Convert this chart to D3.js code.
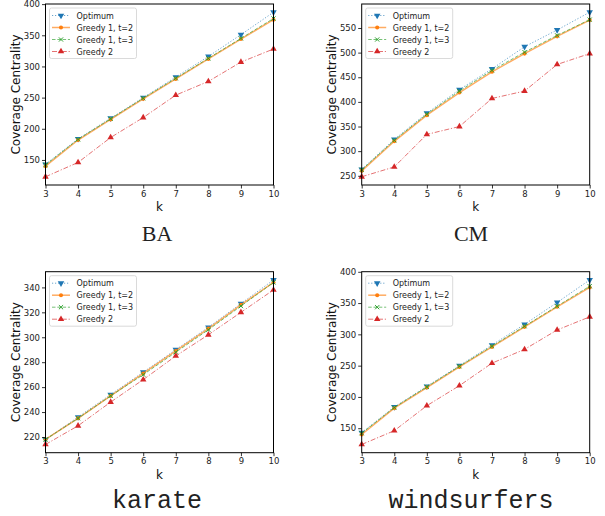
<!DOCTYPE html>
<html><head><meta charset="utf-8">
<script src="https://cdn.jsdelivr.net/npm/d3@7"></script>
<style>
body{margin:0;background:#fff;}
svg{display:block;}
.tick text{font-family:"DejaVu Sans",sans-serif;font-size:8.5px;fill:#222;}
</style></head><body>
<svg id="chart" width="605" height="516"></svg>
<script>
const kValues = [3,4,5,6,7,8,9,10];
const seriesNames = ["Optimum","Greedy 1, t=2","Greedy 1, t=3","Greedy 2"];

const baOptimum = [143,184,217,250,283,316,351,387];
const baGreedy1t2 = [140,182,215,248,280,312,344,375];
const baGreedy1t3 = [142,183,216,249,281,313,345,377];
const baGreedy2 = [123,146,186,218,254,276,307,328];
const baTicks = [150,200,250,300,350,400];

const cmOptimum = [263,324,377,425,467,512,546,582];
const cmGreedy1t2 = [260,320,373,419,461,498,533,566];
const cmGreedy1t3 = [262,322,375,422,464,501,535,567];
const cmGreedy2 = [248,268,334,350,407,422,476,498];
const cmTicks = [250,300,350,400,450,500,550];

const karateOptimum = [218,236,254,272,290,308,327,346];
const karateGreedy1t2 = [218,235,253,271,289,307,326,344];
const karateGreedy1t3 = [218,235,253,270,288,306,325,344];
const karateGreedy2 = [214,229,248,266,285,302,320,338];
const karateTicks = [220,240,260,280,300,320,340];

const wsOptimum = [143,184,217,250,283,316,351,387];
const wsGreedy1t2 = [140,182,215,248,280,312,344,375];
const wsGreedy1t3 = [142,183,216,249,281,313,345,377];
const wsGreedy2 = [124,146,186,218,254,276,307,328];
const wsTicks = [150,200,250,300,350,400];

const panels = [
  {title:"BA", series:[baOptimum,baGreedy1t2,baGreedy1t3,baGreedy2], ticks:baTicks},
  {title:"CM", series:[cmOptimum,cmGreedy1t2,cmGreedy1t3,cmGreedy2], ticks:cmTicks},
  {title:"karate", series:[karateOptimum,karateGreedy1t2,karateGreedy1t3,karateGreedy2], ticks:karateTicks},
  {title:"windsurfers", series:[wsOptimum,wsGreedy1t2,wsGreedy1t3,wsGreedy2], ticks:wsTicks}
];

const styles = [
  {color:"#1f77b4", dash:"1.2,1.8", width:1, symbol:d3.symbolTriangle, rot:180, size:18, fillMode:"fill"},
  {color:"#ff7f0e", dash:null, width:1.5, symbol:d3.symbolCircle, rot:0, size:13, fillMode:"fill"},
  {color:"#2ca02c", dash:"3.5,1.8", width:1, symbol:d3.symbolTimes, rot:0, size:13, fillMode:"stroke"},
  {color:"#d62728", dash:"5,1.8,1.2,1.8", width:1, symbol:d3.symbolTriangle, rot:0, size:18, fillMode:"fill"}
];

const svg = d3.select("#chart");
const cols = [45.5, 361.7];
const rows = [4, 271.7];
const pw = 228, ph = 181;
const titleX = [157, 471];
const titleBaseline = [241, 508];

panels.forEach((p, i) => {
  const cx = cols[i % 2], cy = rows[Math.floor(i / 2)];
  const g = svg.append("g").attr("transform", `translate(${cx},${cy})`);
  const x = d3.scaleLinear().domain(d3.extent(kValues)).range([0, pw]);
  const all = p.series.flat();
  const lo = d3.min(all), hi = d3.max(all), m = (hi - lo) * 0.05;
  const y = d3.scaleLinear().domain([lo - m, hi + m]).range([ph, 0]);

  const plot = g.append("g");
  p.series.forEach((vals, si) => {
    const st = styles[si];
    const pts = kValues.map((k, j) => [k, vals[j]]);
    const line = d3.line().x(d => x(d[0])).y(d => y(d[1]));
    plot.append("path").attr("d", line(pts))
      .attr("fill", "none").attr("stroke", st.color)
      .attr("stroke-width", st.width).attr("stroke-opacity", 0.65)
      .attr("stroke-dasharray", st.dash);
    const sym = d3.symbol().type(st.symbol).size(st.size);
    plot.selectAll(null).data(pts).enter().append("path")
      .attr("d", sym)
      .attr("transform", d => `translate(${x(d[0])},${y(d[1])}) rotate(${st.rot})`)
      .attr("fill", st.fillMode === "fill" ? st.color : "none")
      .attr("stroke", st.fillMode === "stroke" ? st.color : "none")
      .attr("stroke-width", 1);
  });

  const xAxis = d3.axisBottom(x).tickValues(kValues).tickFormat(d3.format("d")).tickSize(3.5).tickPadding(2);
  const yAxis = d3.axisLeft(y).tickValues(p.ticks).tickFormat(d3.format("d")).tickSize(3.5).tickPadding(2);
  const gx = g.append("g").attr("transform", `translate(0,${ph})`).call(xAxis);
  const gy = g.append("g").call(yAxis);
  [gx, gy].forEach(a => {
    a.select(".domain").remove();
    a.selectAll(".tick line").attr("stroke", "#000").attr("stroke-width", 0.8);
  });
  g.append("rect").attr("width", pw).attr("height", ph)
    .attr("fill", "none").attr("stroke", "#000").attr("stroke-width", 1);

  g.append("text").attr("x", pw / 2).attr("y", 207)
    .attr("text-anchor", "middle").attr("font-family", "DejaVu Sans, sans-serif")
    .attr("font-size", 12).attr("fill", "#111").text("k");
  g.append("text").attr("transform", `translate(${-25.5},${ph / 2}) rotate(-90)`)
    .attr("text-anchor", "middle").attr("font-family", "DejaVu Sans, sans-serif")
    .attr("font-size", 12).attr("fill", "#111").text("Coverage Centrality");

  const lg = g.append("g").attr("transform", "translate(4,4)");
  lg.append("rect").attr("width", 87).attr("height", 50.5).attr("rx", 2)
    .attr("fill", "#fff").attr("fill-opacity", 0.85)
    .attr("stroke", "#d0d0d0").attr("stroke-width", 0.8);
  seriesNames.forEach((name, si) => {
    const st = styles[si];
    const ry = 7.5 + si * 12;
    lg.append("line").attr("x1", 2.5).attr("x2", 20.5).attr("y1", ry).attr("y2", ry)
      .attr("stroke", st.color).attr("stroke-width", st.width).attr("stroke-opacity", 0.65)
      .attr("stroke-dasharray", st.dash);
    lg.append("path").attr("d", d3.symbol().type(st.symbol).size(st.size))
      .attr("transform", `translate(11.5,${ry}) rotate(${st.rot})`)
      .attr("fill", st.fillMode === "fill" ? st.color : "none")
      .attr("stroke", st.fillMode === "stroke" ? st.color : "none");
    lg.append("text").attr("x", 27).attr("y", ry + 3)
      .attr("font-family", "DejaVu Sans, sans-serif").attr("font-size", 8)
      .attr("fill", "#222").text(name);
  });

  const upper = p.title === p.title.toUpperCase();
  svg.append("text").attr("x", titleX[i % 2]).attr("y", titleBaseline[Math.floor(i / 2)])
    .attr("text-anchor", "middle")
    .attr("font-family", upper ? "Liberation Serif, serif" : "Liberation Mono, monospace")
    .attr("font-size", upper ? 22 : 25).attr("fill", "#222")
    .text(p.title);
});
</script>
</body></html>
